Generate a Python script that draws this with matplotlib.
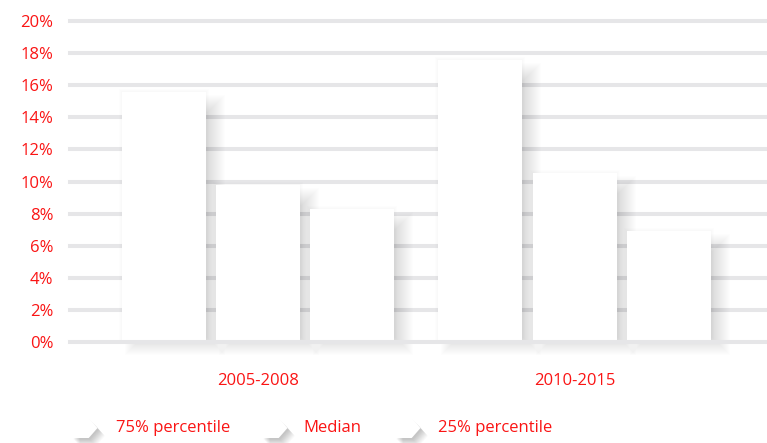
import matplotlib
matplotlib.use("Agg")
import matplotlib.pyplot as plt
import numpy as np
from matplotlib.patches import Rectangle
from matplotlib.transforms import IdentityTransform
from matplotlib.path import Path
import matplotlib.patheffects as pe

categories = ["2005-2008", "2010-2015"]
series_names = ["75% percentile", "Median", "25% percentile"]
p75 = [15.6, 17.6]
median = [9.8, 10.5]
p25 = [8.3, 6.9]
yticks = [0, 2, 4, 6, 8, 10, 12, 14, 16, 18, 20]
ytick_labels = [f"{v}%" for v in yticks]

RED = "#fa1414"
GRID = "#e6e6e8"
FONT = "Open Sans"

W, H = 767, 443
fig = plt.figure(figsize=(W / 100, H / 100), dpi=100)
ax = fig.add_axes([70 / W, 1 - 342 / H, 697 / W, 321 / H])
ax.set_xlim(-0.593, 1.606)
ax.set_ylim(0, 20)
ax.set_autoscale_on(False)

# gridlines
for v in yticks:
    ax.axhline(v, color=GRID, lw=2.9, zorder=1 if v != 0 else 6, clip_on=False)

x = np.arange(len(categories))
offsets = [-0.298, 0.0, 0.298]
width = 0.265
series = [p75, median, p25]

all_bars = []
for s, off in zip(series, offsets):
    bars = ax.bar(x + off, s, width, color="white", edgecolor="none", zorder=5)
    all_bars.extend(bars.patches)

# soft blurred shadow, built in display space from each bar's own extent
n = 18
a = 0.0095
for p in all_bars:
    (x0, y0), (x1, y1) = ax.transData.transform([(p.get_x(), p.get_y()),
                                                  (p.get_x() + p.get_width(), p.get_y() + p.get_height())])
    sx0, sx1 = x0 + 20, x1 + 2
    sy0, sy1 = y0 + 4, y1 - 20
    for k in range(n):
        r = k * 1.0
        ax.add_artist(Rectangle((sx0 - r, sy0 - r), (sx1 - sx0) + 2 * r, (sy1 - sy0) + 2 * r,
                                transform=IdentityTransform(), facecolor=(0, 0, 0, a),
                                edgecolor="none", zorder=3, clip_on=False))
    # very faint halo around the bar
    for r in (1, 2, 3):
        ax.add_artist(Rectangle((x0 - r, y0), (x1 - x0) + 2 * r, (y1 - y0) + r,
                                transform=IdentityTransform(), facecolor=(0, 0, 0, 0.006),
                                edgecolor="none", zorder=3, clip_on=False))

for sp in ax.spines.values():
    sp.set_visible(False)
ax.set_yticks(yticks)
ax.set_yticklabels(ytick_labels)
ax.set_xticks(x)
ax.set_xticklabels(categories)
ax.tick_params(axis="both", length=0, colors=RED, labelsize=12)
ax.tick_params(axis="y", pad=12)
ax.tick_params(axis="x", pad=22)
for lab in ax.get_xticklabels() + ax.get_yticklabels():
    lab.set_fontfamily(FONT)
    lab.set_color(RED)

# legend (manual)
arrow = Path([(-1, -0.8), (0.3, -0.8), (1, 0), (0.3, 0.8), (-1, 0.8), (-1, -0.8)],
             [Path.MOVETO, Path.LINETO, Path.LINETO, Path.LINETO, Path.LINETO, Path.CLOSEPOLY])
marker_x = [85, 275, 408]
text_x = [116, 303, 438]
ly = 1 - 428 / H
shadow_fx = [pe.SimplePatchShadow(offset=(0.8 + 0.5 * k, -1.2 - 0.5 * k),
                                  shadow_rgbFace="black", alpha=0.025) for k in range(10)]
for mx, tx, name in zip(marker_x, text_x, series_names):
    fig.add_artist(plt.Line2D([mx / W], [ly], marker=arrow, markersize=18,
                              markerfacecolor="white", markeredgecolor="none",
                              linestyle="none", transform=fig.transFigure,
                              path_effects=shadow_fx + [pe.Normal()], zorder=2))
    fig.text(tx / W, ly, name, color=RED, fontsize=12, family=FONT,
             ha="left", va="center")

fig.savefig("out.png", dpi=100, facecolor="white")
